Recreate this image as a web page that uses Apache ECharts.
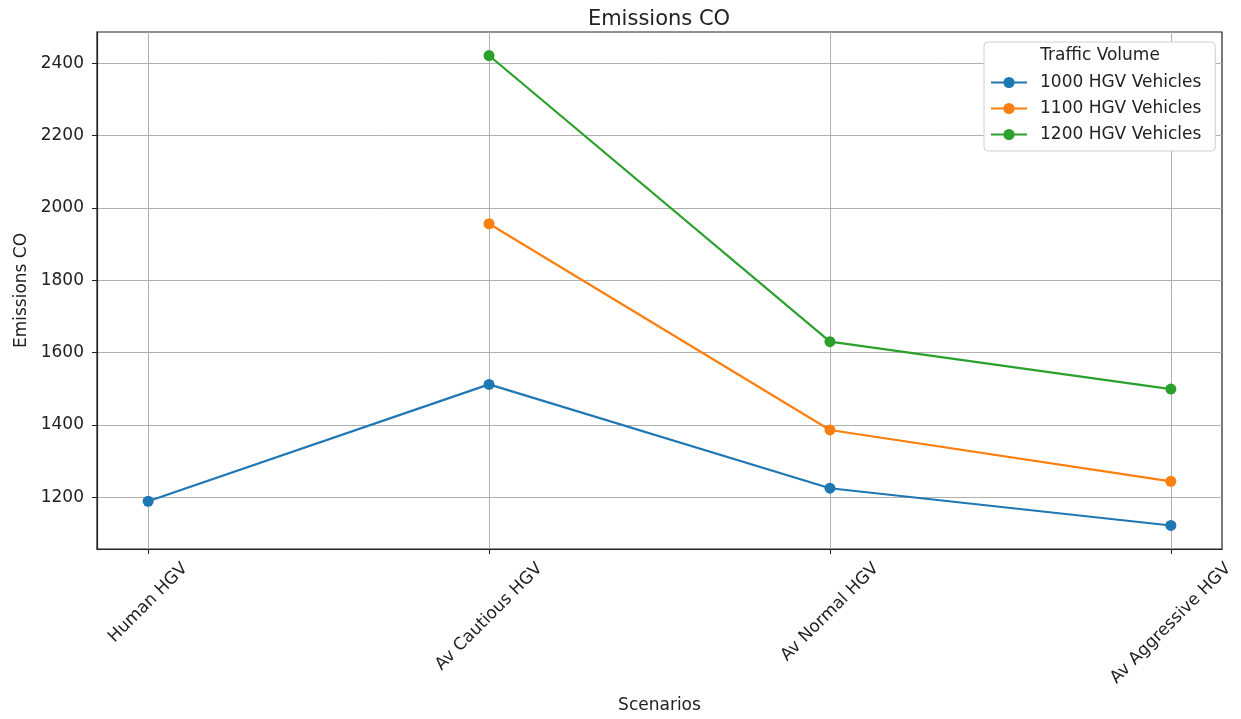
<!DOCTYPE html>
<html>
<head>
<meta charset="utf-8">
<script src="https://cdn.jsdelivr.net/npm/echarts@6/dist/echarts.min.js"></script>
<style>
  html, body { margin: 0; padding: 0; background: #ffffff; }
  #chart { width: 1241px; height: 719px; }
</style>
</head>
<body>
<div id="chart"></div>
<script>
const SCENARIOS = ["Human HGV", "Av Cautious HGV", "Av Normal HGV", "Av Aggressive HGV"];
const VOLUMES = ["1000 HGV Vehicles", "1100 HGV Vehicles", "1200 HGV Vehicles"];
const EMISSIONS_1000 = [1189, 1512, 1225, 1122];
const EMISSIONS_1100 = [null, 1956, 1386, 1244];
const EMISSIONS_1200 = [null, 2421, 1630, 1499];
const Y_TICKS = [1200, 1400, 1600, 1800, 2000, 2200, 2400];
const COLORS = ["#1f77b4", "#ff7f0e", "#2ca02c"];

const FONT = "DejaVu Sans";
const FS = 17;
const Y_MIN = 1057;
const Y_MAX = 2486;
const X_MIN = -0.15;
const X_MAX = 3.15;

const chart = echarts.init(document.getElementById("chart"));

function toPairs(values) {
  return values
    .map((v, i) => (v == null ? null : [i, v]))
    .filter(Boolean);
}

const seriesValues = [EMISSIONS_1000, EMISSIONS_1100, EMISSIONS_1200];

const series = VOLUMES.map((name, i) => ({
  name,
  type: "line",
  data: toPairs(seriesValues[i]),
  symbol: "circle",
  symbolSize: 11,
  showSymbol: true,
  lineStyle: { color: COLORS[i], width: 2.2 },
  itemStyle: { color: COLORS[i] },
  emphasis: { disabled: true },
  z: 3 + i
}));

const option = {
  animation: false,
  backgroundColor: "#ffffff",
  textStyle: { fontFamily: FONT },
  title: {
    text: "Emissions CO",
    left: 654,
    top: 4,
    textAlign: "center",
    textStyle: { fontFamily: FONT, fontSize: 21, fontWeight: "normal", color: "#222" }
  },
  grid: {
    left: 97,
    right: 19,
    top: 32,
    bottom: 169,
    show: true,
    borderColor: "#222",
    borderWidth: 1.2,
    backgroundColor: "transparent"
  },
  legend: {
    orient: "vertical",
    left: 984,
    top: 42,
    padding: [32, 14, 8, 6],
    itemWidth: 36,
    itemHeight: 14,
    itemGap: 9,
    backgroundColor: "#ffffff",
    borderColor: "#d0d0d0",
    borderWidth: 1,
    borderRadius: 4,
    textStyle: { fontFamily: FONT, fontSize: FS, color: "#222", padding: [0, 0, 0, 8] },
    data: VOLUMES
  },
  xAxis: {
    type: "value",
    min: X_MIN,
    max: X_MAX,
    name: "Scenarios",
    nameLocation: "middle",
    nameGap: 148,
    nameTextStyle: { fontFamily: FONT, fontSize: FS, color: "#222" },
    axisLine: { show: true, onZero: false, lineStyle: { color: "#222", width: 1.2 } },
    axisTick: { show: true, length: 5, customValues: [0, 1, 2, 3], lineStyle: { color: "#222" } },
    axisLabel: { show: false, customValues: [0, 1, 2, 3] },
    splitLine: { show: true, lineStyle: { color: "#b0b0b0", width: 1 } }
  },
  yAxis: {
    type: "value",
    min: Y_MIN,
    max: Y_MAX,
    name: "Emissions CO",
    nameLocation: "middle",
    nameGap: 66,
    nameTextStyle: { fontFamily: FONT, fontSize: FS, color: "#222" },
    axisLine: { show: true, onZero: false, lineStyle: { color: "#222", width: 1.2 } },
    axisTick: { show: true, length: 5, customValues: Y_TICKS, lineStyle: { color: "#222" } },
    axisLabel: {
      customValues: Y_TICKS,
      formatter: v => String(v),
      fontFamily: FONT,
      fontSize: FS,
      color: "#222",
      margin: 13
    },
    splitLine: { show: true, lineStyle: { color: "#b0b0b0", width: 1 } }
  },
  series
};

chart.setOption(option);

// rotated category labels, centred on each tick like the reference
function measure(text, size) {
  const ctx = document.createElement("canvas").getContext("2d");
  ctx.font = size + "px " + FONT;
  return ctx.measureText(text).width;
}

const axisY = chart.convertToPixel({ yAxisIndex: 0 }, Y_MIN);
const graphic = [
  {
    type: "text",
    x: 1100,
    y: 56,
    style: {
      text: "Traffic Volume",
      fontFamily: FONT,
      fontSize: FS,
      fill: "#222",
      align: "center",
      verticalAlign: "middle"
    },
    z: 20
  }
];

SCENARIOS.forEach((name, i) => {
  const x = chart.convertToPixel({ xAxisIndex: 0 }, i);
  const w = measure(name, FS);
  const h = FS;
  const half = (w + h) * Math.SQRT1_2 / 2;
  graphic.push({
    type: "text",
    x: x,
    y: axisY + 11 + half,
    rotation: Math.PI / 4,
    style: {
      text: name,
      fontFamily: FONT,
      fontSize: FS,
      fill: "#222",
      align: "center",
      verticalAlign: "middle"
    }
  });
});

chart.setOption({ graphic });
</script>
</body>
</html>
